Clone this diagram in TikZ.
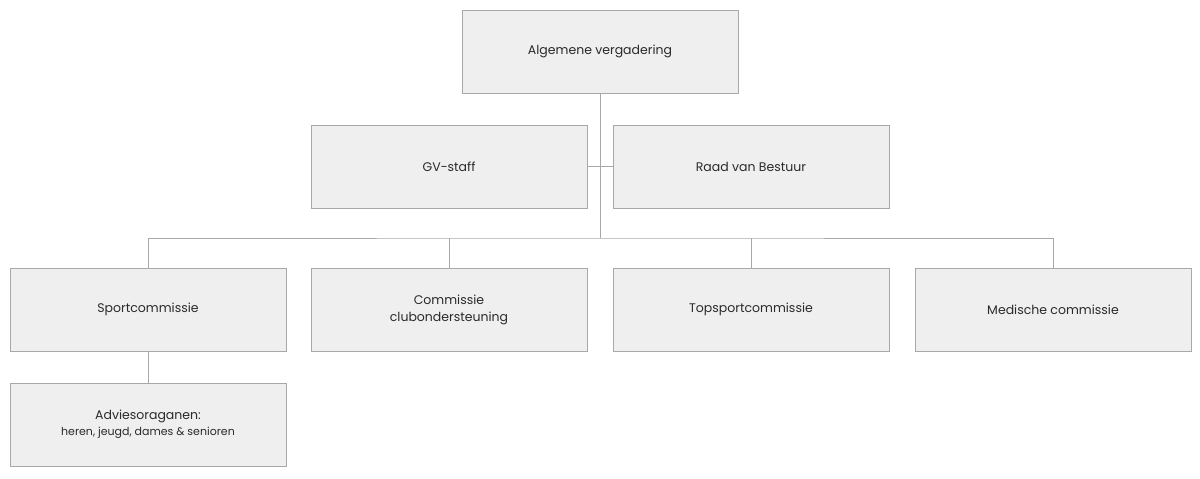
\documentclass[tikz,border=0pt]{standalone}
\usepackage{fontspec}
\setmainfont{Poppins}
\definecolor{boxfill}{HTML}{EFEFEF}
\definecolor{boxline}{HTML}{A8A8A8}
\definecolor{txt}{HTML}{2A2A2A}
\begin{document}
\begin{tikzpicture}[x=1pt,y=-1pt,
  orgbox/.style={draw=boxline,fill=boxfill,line width=1pt,minimum width=276pt,minimum height=83pt,inner sep=0pt,align=center,text=txt,font=\fontsize{12.5}{17}\selectfont},
  link/.style={draw=boxline,line width=1pt}]
\useasboundingbox (0,0) rectangle (1200,479);
\node[orgbox] (av) at (600,51.5) {Algemene vergadering};
\node[orgbox] (gv) at (449,166.5) {GV-staff};
\node[orgbox] (rvb) at (751,166.5) {Raad van Bestuur};
\node[orgbox] (sc) at (148,309.5) {Sportcommissie};
\node[orgbox] (cc) at (449,309.5) {Commissie\\clubondersteuning};
\node[orgbox] (tc) at (751,309.5) {Topsportcommissie};
\node[orgbox] (mc) at (1053,309.5) {Medische commissie};
\node[orgbox] (ao) at (148,424.5) {Adviesoraganen:\\[-1pt]{\fontsize{11}{15}\selectfont heren, jeugd, dames \& senioren}};
\coordinate (bus) at (600,238);
\draw[link] (av.south) -- (bus);
\draw[link] (gv.east) -- (rvb.west);
\draw[link] (sc.north) |- (bus) -| (mc.north);
\draw[link] (cc.north) -- (cc.north |- bus);
\draw[link] (tc.north) -- (tc.north |- bus);
\draw[link] (sc.south) -- (ao.north);
\end{tikzpicture}
\end{document}
